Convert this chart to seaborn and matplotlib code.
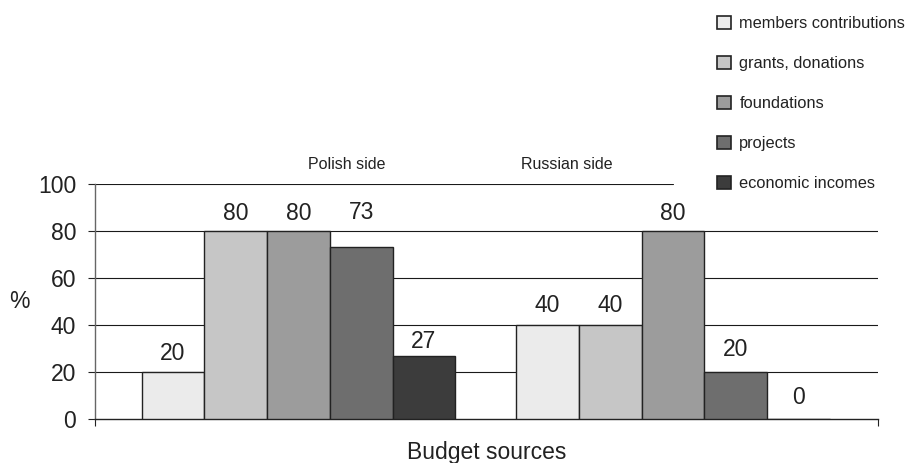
import matplotlib
matplotlib.use("Agg")
import matplotlib.pyplot as plt
from matplotlib.patches import Patch
import pandas as pd
import seaborn as sns

sides = ["Polish side", "Russian side"]
sources = ["members contributions", "grants, donations", "foundations",
           "projects", "economic incomes"]
polish_values = [20, 80, 80, 73, 27]
russian_values = [40, 40, 80, 20, 0]
colors = ["#ebebeb", "#c6c6c6", "#9c9c9c", "#6e6e6e", "#3c3c3c"]
side_label_x = [0.13, 0.717]   # where the side names sit on the top line
y_ticks = [0, 20, 40, 60, 80, 100]
# gap (px) between bar top and label centre, as in the original
polish_label_gap = [18, 18, 18, 35, 14]
russian_label_gap = [20, 20, 18, 22, 21]

df = pd.DataFrame({
    "side": [sides[0]] * len(sources) + [sides[1]] * len(sources),
    "source": sources * 2,
    "value": polish_values + russian_values,
})

sns.set_style("white")
plt.rcParams["font.family"] = ["Liberation Sans", "DejaVu Sans"]
ink = "#222222"
fs = 16.5

fig = plt.figure(figsize=(9.08, 4.63), dpi=100)
ax = fig.add_axes([95 / 908, 1 - 419 / 463, 783 / 908, 235 / 463])

sns.barplot(data=df, x="side", y="value", hue="source", order=sides,
            hue_order=sources, palette=colors, width=0.837, dodge=True,
            errorbar=None, edgecolor=ink, linewidth=1.0, legend=False,
            saturation=1, ax=ax, zorder=3)

# containers go by hue, bars inside by side
for i, c in enumerate(ax.containers):
    gaps = [polish_label_gap[i], russian_label_gap[i]]
    for bar, g in zip(c.patches, gaps):
        h = bar.get_height()
        ax.annotate(f"{h:.0f}", (bar.get_x() + bar.get_width() / 2, h),
                    xytext=(0, g * 0.72), textcoords="offset points",
                    ha="center", va="center", fontsize=fs, color=ink)

# gridlines, the top one is hidden behind the legend on the right
for t in y_ticks[1:]:
    xmax = 0.738 if t == 100 else 1
    ax.axhline(t, xmin=0, xmax=xmax, color="#1a1a1a", lw=0.8, zorder=0)

ax.set_xlim(-0.543, 1.547)
ax.set_ylim(0, 100)
ax.set_yticks(y_ticks)
ax.tick_params(axis="y", left=True, direction="out", length=5, width=0.8,
               pad=8.5, labelsize=fs, colors=ink)
ax.set_xticks([-0.543, 1.547])
ax.set_xticklabels(["", ""])
ax.tick_params(axis="x", bottom=True, direction="out", length=5, width=0.8,
               colors=ink)

for s in ["top", "right"]:
    ax.spines[s].set_visible(False)
ax.spines["left"].set_color("#666666")
ax.spines["left"].set_linewidth(1.0)
ax.spines["bottom"].set_color(ink)
ax.spines["bottom"].set_linewidth(1.0)

ax.set_ylabel("%", rotation=0, fontsize=fs, color=ink, va="center", ha="center")
ax.yaxis.set_label_coords(-0.096, 0.5)
ax.set_xlabel("Budget sources", fontsize=fs, color=ink, va="center")
ax.xaxis.set_label_coords(0.5, -33 / 235)

for name, xpos in zip(sides, side_label_x):
    ax.text(xpos, 108.5, name, ha="center", va="center", fontsize=11.5,
            color=ink, clip_on=False)

handles = [Patch(facecolor=c, edgecolor=ink, linewidth=1.2) for c in colors]
fig.legend(handles, sources, loc="upper right",
           bbox_to_anchor=(1 + 12 / 908, 1 - 1 / 463),
           frameon=False, fontsize=11.8, handlelength=0.88, handleheight=0.88,
           handletextpad=0.5, labelspacing=1.5, borderpad=0.4,
           labelcolor=ink)

fig.savefig("out.png", dpi=100)
